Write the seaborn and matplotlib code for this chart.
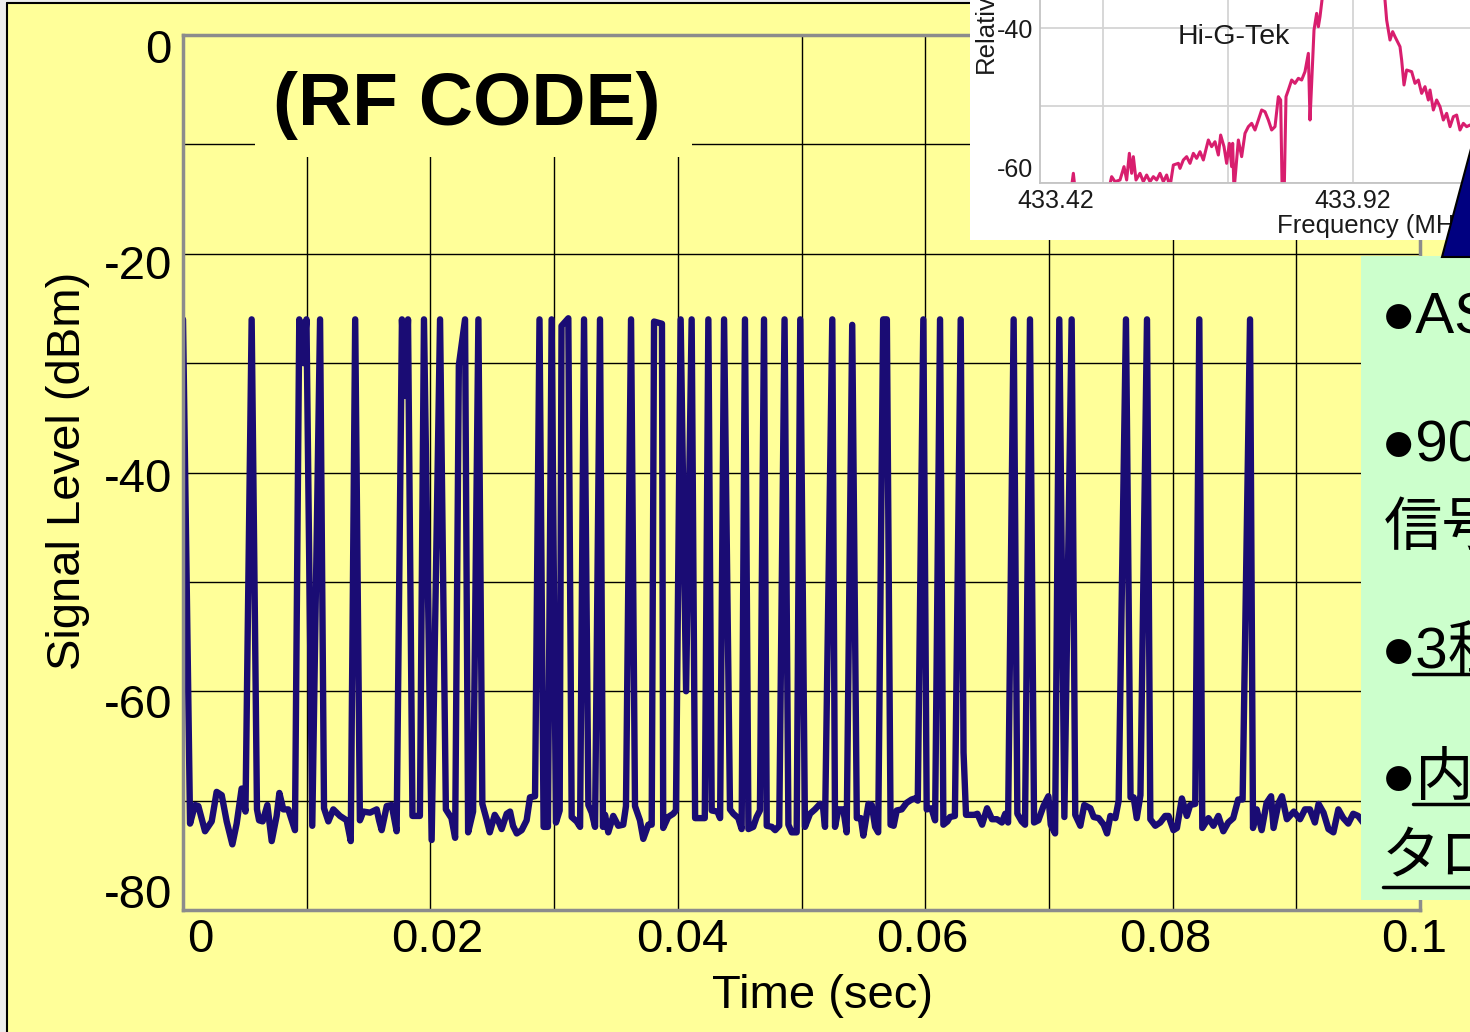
import numpy as np
import pandas as pd
import matplotlib
matplotlib.use("Agg")
import matplotlib.pyplot as plt
import matplotlib.transforms as mtransforms
from matplotlib.patches import Rectangle, Polygon
from matplotlib.lines import Line2D
import seaborn as sns

# ---------------- data: RF code trace (time in ms, level in dBm) ----------------
time_ms = [
    0.00, 0.57, 0.97, 1.24, 1.78, 2.32, 2.72, 3.13, 3.53, 3.99, 4.34, 4.74, 5.05, 5.55,
    5.98, 6.15, 6.44, 6.82, 7.17, 7.57, 7.79, 8.11, 8.51, 9.05, 9.40, 9.72, 9.98, 10.45,
    11.08, 11.40, 11.75, 12.15, 12.69, 13.23, 13.56, 13.92, 14.30, 14.58, 15.12, 15.66,
    15.85, 16.06, 16.47, 16.87, 17.27, 17.70, 17.95, 18.19, 18.55, 19.15, 19.48, 20.10,
    20.78, 21.25, 21.70, 22.00, 22.30, 22.80, 23.05, 23.45, 23.88, 24.20, 24.56, 24.80,
    25.20, 25.47, 25.76, 26.17, 26.44, 26.68, 26.98, 27.38, 27.78, 28.05, 28.46, 28.82,
    29.15, 29.50, 29.80, 30.15, 30.45, 30.60, 31.15, 31.42, 31.82, 32.10, 32.42, 32.77,
    33.04, 33.31, 33.71, 33.95, 34.12, 34.38, 34.78, 35.19, 35.59, 35.81, 36.22, 36.54,
    36.94, 37.21, 37.62, 37.89, 38.08, 38.72, 38.82, 39.22, 39.63, 39.85, 40.23, 40.67,
    41.12, 41.40, 42.18, 42.47, 42.74, 43.20, 43.42, 43.74, 44.22, 44.49, 44.89, 45.16,
    45.43, 45.71, 46.10, 46.37, 46.64, 46.97, 47.19, 47.60, 47.87, 48.20, 48.63, 48.94,
    49.21, 49.61, 49.90, 50.28, 50.69, 51.09, 51.50, 51.74, 51.90, 52.49, 52.71, 52.98,
    53.38, 53.65, 54.10, 54.47, 54.80, 55.00, 55.41, 55.68, 55.95, 56.20, 56.60, 56.90,
    57.20, 57.45, 57.70, 58.10, 58.50, 58.90, 59.17, 59.40, 59.85, 60.12, 60.50, 60.80,
    61.20, 61.47, 61.80, 62.00, 62.40, 62.87, 63.10, 63.30, 63.98, 64.22, 64.60, 65.00,
    65.40, 65.80, 66.20, 66.47, 66.70, 67.15, 67.45, 67.80, 68.07, 68.47, 68.80, 69.15,
    69.56, 69.96, 70.15, 70.50, 70.84, 71.25, 71.84, 72.13, 72.54, 72.86, 73.35, 73.62,
    74.02, 74.43, 74.70, 74.97, 75.37, 75.64, 76.23, 76.60, 76.85, 77.10, 77.40, 77.93,
    78.20, 78.60, 79.00, 79.40, 79.67, 80.07, 80.35, 80.75, 81.15, 81.42, 81.83, 82.16,
    82.40, 82.90, 83.30, 83.70, 84.10, 84.50, 84.90, 85.30, 85.66, 86.26, 86.50, 86.80,
    87.20, 87.60, 87.96, 88.16, 88.57, 88.84, 89.24, 89.80, 90.30, 90.70, 91.10, 91.50,
    91.80, 92.20, 92.60, 93.00, 93.40, 93.80, 94.20, 94.60, 95.00, 95.40,
]
level_dbm = [
    -26.0, -72.1, -70.4, -70.5, -72.8, -71.9, -69.2, -69.5, -71.9, -74.0, -72.1, -68.9, -71.0, -26.0,
    -70.8, -71.8, -71.9, -70.4, -73.7, -71.4, -69.3, -70.8, -70.8, -72.7, -26.0, -30.0, -26.0, -72.3,
    -26.0, -70.7, -71.9, -70.8, -71.4, -71.8, -73.7, -26.0, -71.8, -71.0, -71.1, -70.8,
    -71.8, -72.7, -70.5, -70.4, -72.8, -26.0, -33.0, -26.0, -71.4, -71.4, -26.0, -73.6,
    -26.0, -70.8, -71.6, -73.4, -30.2, -26.0, -72.9, -71.0, -26.0, -70.3, -71.8, -72.9,
    -71.3, -71.8, -72.6, -71.2, -71.0, -72.3, -73.0, -72.7, -71.8, -69.7, -69.6, -26.0,
    -72.4, -72.4, -26.0, -72.0, -70.9, -26.6, -25.9, -71.5, -71.9, -72.4, -26.0, -70.4,
    -71.1, -72.4, -26.0, -72.4, -71.3, -72.9, -71.4, -72.3, -72.2, -70.5, -26.0, -70.5,
    -71.8, -73.5, -72.2, -72.2, -26.2, -26.4, -72.5, -71.5, -71.2, -70.9, -26.0, -60.0,
    -26.0, -71.6, -71.6, -26.0, -70.9, -71.0, -71.6, -26.0, -70.8, -71.2, -71.6, -72.6,
    -26.0, -72.6, -72.4, -71.5, -70.9, -26.0, -72.3, -72.4, -72.7, -72.3, -26.0, -72.2,
    -72.9, -72.9, -26.0, -72.4, -71.2, -70.8, -70.3, -70.6, -72.4, -26.0, -72.4, -70.8,
    -70.8, -72.9, -26.5, -71.6, -71.6, -73.2, -70.3, -70.4, -72.4, -72.9, -26.0, -26.0,
    -72.2, -72.3, -70.9, -70.8, -70.2, -69.9, -69.8, -70.0, -26.0, -70.8, -70.7, -71.8,
    -26.0, -72.2, -71.9, -71.5, -71.4, -26.0, -65.6, -71.3, -71.3, -71.2, -72.2, -70.7,
    -71.7, -71.7, -72.0, -71.2, -72.0, -26.0, -71.2, -71.9, -72.2, -26.0, -72.0, -71.8,
    -70.5, -69.6, -72.2, -73.0, -26.0, -71.5, -26.0, -71.3, -72.3, -70.4, -70.7, -71.5,
    -71.6, -72.2, -73.0, -71.4, -71.6, -70.0, -26.0, -69.7, -69.7, -71.6, -69.5, -26.0,
    -71.7, -72.3, -72.0, -71.4, -71.4, -72.7, -72.5, -69.8, -71.4, -70.4, -70.3, -26.0,
    -72.5, -71.6, -72.3, -71.4, -72.8, -72.0, -71.6, -69.9, -69.9, -26.0, -72.5, -70.8,
    -72.7, -70.2, -69.6, -72.5, -70.2, -69.6, -71.7, -71.0, -71.7, -70.8, -70.8, -72.0,
    -70.3, -71.1, -72.6, -72.9, -70.8, -71.6, -72.1, -71.2, -71.4, -72.0,
]

# ---------------- data: inset spectrum (Hi-G-Tek) ----------------
spec_freq_mhz = [
    433.354, 433.3607, 433.366, 433.4273, 433.4373, 433.444, 433.454, 433.462, 433.4673,
    433.4727, 433.4773, 433.4807, 433.486, 433.494, 433.5007, 433.5073, 433.514, 433.5207,
    433.5273, 433.534, 433.5407, 433.5473, 433.554, 433.5607, 433.5707, 433.574, 433.5807,
    433.5873, 433.594, 433.6007, 433.6073, 433.614, 433.6207, 433.6273, 433.6307, 433.6373,
    433.644, 433.6507, 433.6553, 433.662, 433.6673, 433.6727, 433.6773, 433.6793, 433.682,
    433.6907, 433.6973, 433.704, 433.7107, 433.7173, 433.724, 433.7307, 433.7373, 433.744,
    433.7507, 433.7573, 433.764, 433.7707, 433.7753, 433.7787, 433.782, 433.786, 433.7907,
    433.7973, 433.804, 433.8107, 433.8173, 433.824, 433.8307, 433.834, 433.8373, 433.842,
    433.8473, 433.8507, 433.854, 433.8587, 433.864, 433.9207, 433.977, 433.984, 433.9873,
    433.994, 433.9993, 434.004, 434.014, 434.0173, 434.022, 434.0273, 434.0373, 434.044,
    434.0507, 434.0573, 434.064, 434.0707, 434.074, 434.0807, 434.0873, 434.094, 434.1007,
    434.1073, 434.114, 434.1207, 434.1273, 434.134, 434.1407, 434.1473, 434.154, 434.174,
    434.194,
]
spec_rel_db = [
    -62.0, -58.75, -62.0, -62.0, -59.18, -59.83, -59.61, -57.89, -59.61,
    -56.17, -58.75, -56.60, -59.61, -58.75, -59.83, -58.97, -59.83, -59.18,
    -59.61, -58.75, -59.83, -58.97, -60.5, -57.68, -57.46, -58.11, -57.03,
    -56.60, -57.46, -56.17, -56.82, -55.96, -57.03, -55.31, -54.45, -55.31,
    -54.67, -56.39, -53.81, -55.31, -57.46, -54.88, -57.89, -54.88, -61.0,
    -54.45, -56.60, -53.59, -52.73, -52.30, -53.16, -51.87, -50.58, -50.80,
    -51.87, -53.16, -52.73, -48.86, -49.29, -62.5, -62.5, -48.86, -48.00,
    -46.71, -47.14, -46.49, -46.71, -45.63, -43.27, -51.87, -47.14, -40.26,
    -38.11, -39.83, -38.54, -36.0, -30.0, -12.0, -30.0, -36.39, -38.97,
    -41.55, -40.47, -41.12, -42.41, -44.13, -47.35, -45.42, -45.63, -47.14,
    -46.71, -48.43, -47.57, -49.29, -48.00, -50.58, -49.29, -50.15, -51.87,
    -51.01, -52.73, -51.44, -51.23, -53.16, -52.30, -52.73, -52.52, -53.4,
    -53.0,
]

# ---------------- ticks and texts ----------------
x_major = [0.0, 0.02, 0.04, 0.06, 0.08, 0.1]
x_major_labels = ["0", "0.02", "0.04", "0.06", "0.08", "0.1"]
x_minor = [0.01, 0.03, 0.05, 0.07, 0.09]
y_major = [0, -20, -40, -60, -80]
y_major_labels = ["0", "-20", "-40", "-60", "-80"]
y_minor = [-10, -30, -50, -70]

spec_x_ticks = [433.42, 433.67, 433.92, 434.17]
spec_x_labels = ["433.42", "", "433.92", ""]
spec_y_ticks = [-60, -50, -40, -30]
spec_y_labels = ["-60", "", "-40", ""]

title_text = "(RF CODE)"
x_label = "Time (sec)"
y_label = "Signal Level (dBm)"
spec_title = "Hi-G-Tek"
spec_x_label = "Frequency (MHz)"
spec_y_label = "Relative"
# only the visible part of each note line (the box runs off the slide edge)
note_lines = ["●AS", "●90", "信号", "●3種", "●内", "タロ"]

# ---------------- styling ----------------
W, H = 1470, 1032
YELLOW = "#FFFF99"
NAVY = "#1A0C74"
PINK = "#D81E6E"
MINT = "#CCFFCC"
FAM = ["Liberation Sans", "Noto Sans CJK JP", "DejaVu Sans"]

sns.set_theme(style="white")
plt.rcParams["font.family"] = FAM

fig = plt.figure(figsize=(W / 100, H / 100), dpi=100, facecolor=YELLOW)


def fx(px):
    return px / W


def fy(py):
    return 1 - py / H


def shift(dx_px, dy_px):
    return mtransforms.ScaledTranslation(dx_px / 100, -dy_px / 100, fig.dpi_scale_trans)


# slide frame
fig.add_artist(Rectangle((0, 0), fx(7), 1, transform=fig.transFigure,
                         facecolor="#EDEDED", edgecolor="none", zorder=0.5))
fig.add_artist(Rectangle((0, fy(3)), 1, 1 - fy(3), transform=fig.transFigure,
                         facecolor="#EDEDED", edgecolor="none", zorder=0.5))
fig.add_artist(Line2D([fx(7), fx(7)], [0, fy(3)], transform=fig.transFigure,
                      color="black", lw=1.5, zorder=0.6))
fig.add_artist(Line2D([fx(7), 1], [fy(3), fy(3)], transform=fig.transFigure,
                      color="black", lw=1.5, zorder=0.6))

# ---------------- main axes ----------------
ax = fig.add_axes([fx(183), fy(910), fx(1420) - fx(183), fy(35) - fy(910)])
ax.set_facecolor(YELLOW)
ax.set_axisbelow(True)

df = pd.DataFrame({"t": np.asarray(time_ms) / 1000.0, "v": level_dbm})
sns.lineplot(data=df, x="t", y="v", ax=ax, color=NAVY, linewidth=4.6,
             estimator=None, sort=False, legend=False, zorder=2)
for ln in ax.lines:
    ln.set_solid_joinstyle("round")
    ln.set_solid_capstyle("round")

ax.set_xlim(0, 0.1)
ax.set_ylim(-80, 0)
ax.set_xticks(x_major, labels=x_major_labels)
ax.set_xticks(x_minor, minor=True)
ax.set_yticks(y_major, labels=y_major_labels)
ax.set_yticks(y_minor, minor=True)
ax.grid(True, which="both", color="black", linewidth=1.0)
ax.tick_params(axis="both", which="both", direction="in", length=9, width=1.5, color="#555555")
ax.tick_params(axis="x", which="major", labelsize=34, pad=5.5, labelcolor="black")
ax.tick_params(axis="y", which="major", labelsize=34, pad=8, labelcolor="black")
for s in ax.spines.values():
    s.set_color("#8C8C8C")
    s.set_linewidth(2.5)

ax.set_xlabel(x_label, fontsize=34, color="black")
ax.set_ylabel(y_label, fontsize=34, color="black")
ax.xaxis.set_label_coords((822 - 183) / 1237, (910 - 974) / 875)
ax.yaxis.set_label_coords((90 - 183) / 1237, (910 - 471) / 875)

for lab, dx in zip(ax.get_xticklabels(), [17, 7, 4, -3, -7, -6]):
    lab.set_transform(lab.get_transform() + shift(dx, 0))
for lab, dy in zip(ax.get_yticklabels(), [11, 8, 3, 10, -19]):
    lab.set_transform(lab.get_transform() + shift(0, dy))

# title block
ax.add_patch(Rectangle((fx(255), fy(157)), fx(692) - fx(255), fy(35) - fy(157),
                       transform=fig.transFigure, facecolor=YELLOW, edgecolor="none", zorder=1))
ax.text(fx(467), fy(106), title_text, transform=fig.transFigure, ha="center", va="center",
        fontsize=54, fontweight="bold", color="black", zorder=3)

# ---------------- inset spectrum ----------------
fig.add_artist(Rectangle((fx(970), fy(240)), 1 - fx(970), 1 - fy(240), transform=fig.transFigure,
                         facecolor="white", edgecolor="none", zorder=2))
ax_in = fig.add_axes([fx(1040), fy(183), (1600 - 1040) / W, (183 + 80) / H])
ax_in.set_zorder(3)
ax_in.patch.set_alpha(0)
ax_in.set_axisbelow(True)
sns.lineplot(x=spec_freq_mhz, y=spec_rel_db, ax=ax_in, color=PINK, linewidth=2.2,
             estimator=None, sort=False, legend=False)
ax_in.set_xlim(433.294, 434.414)
ax_in.set_ylim(-60, -26.06)
ax_in.set_xticks(spec_x_ticks, labels=spec_x_labels)
ax_in.set_yticks(spec_y_ticks, labels=spec_y_labels)
ax_in.grid(True, color="#D4D4D4", linewidth=1.3)
ax_in.tick_params(axis="both", length=0, labelsize=18, labelcolor="#1A1A1A")
ax_in.tick_params(axis="x", pad=4.5)
ax_in.tick_params(axis="y", pad=5)
for side in ["top", "right"]:
    ax_in.spines[side].set_visible(False)
for side in ["left", "bottom"]:
    ax_in.spines[side].set_color("#C4C4C4")
    ax_in.spines[side].set_linewidth(1.3)
ax_in.set_xlabel(spec_x_label, fontsize=18.5, color="#1A1A1A", ha="left")
ax_in.xaxis.set_label_coords((1277 - 1040) / 560, (183 - 214) / 263)
ax_in.set_ylabel(spec_y_label, fontsize=18.5, color="#1A1A1A", ha="left")
ax_in.yaxis.set_label_coords((998 - 1040) / 560, (183 - 73) / 263)
xl = ax_in.get_xticklabels()
xl[0].set_transform(xl[0].get_transform() + shift(-47, 0))
yl = ax_in.get_yticklabels()
yl[0].set_transform(yl[0].get_transform() + shift(0, -16))
fig.text(fx(1234), fy(37), spec_title, ha="center", va="center", fontsize=20.5,
         color="#1A1A1A", zorder=3.5)

# ---------------- note box and pointer ----------------
fig.add_artist(Rectangle((fx(1361), fy(900)), 1 - fx(1361), fy(256) - fy(900),
                         transform=fig.transFigure, facecolor=MINT, edgecolor="none", zorder=4))
fig.add_artist(Polygon([(fx(1442), fy(257)), (fx(1476), fy(130)), (fx(1530), fy(130)),
                        (fx(1530), fy(257))], closed=True, transform=fig.transFigure,
                       facecolor="#000080", edgecolor="black", lw=1.5, zorder=5))

note_pos = [(1381, 333), (1381, 461), (1384, 545), (1381, 668), (1381, 795), (1382, 874)]
for txt, (px, py) in zip(note_lines, note_pos):
    fig.text(fx(px), fy(py), txt, ha="left", va="baseline", fontsize=42, color="black",
             family=FAM, zorder=6)
for x0, yy in [(1413, 674), (1413, 804), (1383, 887)]:
    fig.add_artist(Line2D([fx(x0), 1], [fy(yy), fy(yy)], transform=fig.transFigure,
                          color="black", lw=2.5, zorder=6))

fig.savefig("out.png", dpi=100, facecolor=YELLOW)
